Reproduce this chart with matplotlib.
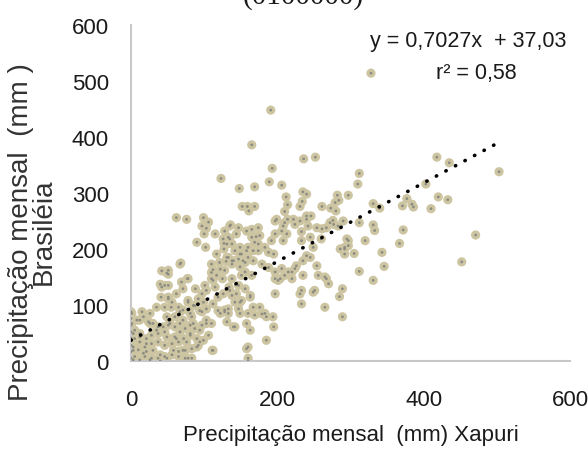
import matplotlib
matplotlib.use('Agg')
import matplotlib.pyplot as plt
import numpy as np

# precipitação mensal (mm): Xapuri (x) vs Brasiléia (y)
xapuri = [
    191, 165, 236, 252, 193, 123, 148, 169, 189, 206, 212, 214, 210, 235, 240, 234, 231, 152, 159, 169,
    161, 261, 273, 280, 282, 284, 297, 62, 76, 99, 106, 240, 246, 199, 214,
    328, 418, 435, 503, 312, 310, 331, 340, 371, 377, 384, 386, 403, 420, 433, 410, 312, 331, 333,
    372, 367, 471, 297, 292, 305, 320, 343, 346, 312, 331, 452, 289, 289, 285,
    103, 100, 115, 90, 102, 128, 136, 126, 131, 144, 158, 165, 171,
    197, 210, 222, 231, 240, 206, 197, 192,
    233, 254, 245, 233, 260, 272, 276, 290, 295, 297, 286,
    110, 122, 110, 117, 131, 142, 149, 149, 158, 153, 140, 167, 167,
    42, 51, 67, 78, 69, 51, 42,
    110, 115, 103, 97, 119, 126, 135, 144, 149, 163, 167, 169, 176, 179, 185, 194,
    185, 158, 160, 112, 140, 158, 149,
    197, 204, 210, 220, 226, 235, 245, 254, 256, 267, 270, 235, 231, 249, 265, 233,
    51, 62, 71, 78, 85, 99, 94, 81, 71, 65, 55, 49, 71, 85, 94, 103, 81, 67, 53, 49, 62, 76, 90, 94,
    65, 78, 1, 1, 8, 17, 26, 35, 44, 12, 21, 30, 40, 49, 3, 3, 3, 12, 26, 40, 58, 71, 17,
    97, 135, 127, 127, 68, 49, 51, 112, 121, 130, 138, 117, 128,
    279, 135, 147, 133, 174, 176, 165, 169, 160, 208, 224, 213, 208, 242, 261, 267, 277, 283,
    292, 249, 240, 174, 183, 188, 195, 174, 138, 151, 133, 147, 156, 138, 149, 160, 156, 165, 151,
    138, 147, 156, 163, 151, 142, 138, 133, 147, 160, 179, 188, 197, 206, 215, 224, 220, 201, 197,
    233, 251, 265, 292, 183, 195, 163, 142, 131, 160, 160, 128, 133,
    60, 67, 74, 81, 87, 97, 103, 106, 99, 90, 81, 72, 65, 60, 56, 46, 37, 28, 19, 10,
    19, 28, 37, 46, 56, 65, 74, 83, 92, 111, 74, 83, 110, 122, 128, 5, 12, 5, 12, 3,
    5, 21, 37, 46, 28, 21, 37, 51, 30, 26, 35, 46, 56, 67, 60, 83, 97, 103,
    77, 40, 46, 88, 101, 112, 125, 134, 41, 51, 92, 87, 78, 112, 119, 15, 12, 24,
    0, 0, 0, 0, 0, 0, 0, 0,
]
brasileia = [
    448, 386, 361, 364, 344, 326, 308, 311, 320, 314, 293, 279, 267, 302, 298, 285, 276, 276, 276, 276,
    268, 276, 273, 268, 296, 287, 296, 256, 253, 256, 248, 259, 259, 253, 253,
    514, 364, 354, 338, 335, 316, 281, 273, 277, 290, 280, 275, 316, 293, 288, 272, 247, 243, 233,
    234, 210, 225, 215, 200, 192, 215, 194, 169, 160, 144, 177, 129, 79, 115,
    237, 227, 227, 212, 203, 232, 243, 218, 209, 227, 232, 235, 222,
    250, 247, 253, 250, 253, 232, 227, 215,
    231, 238, 221, 215, 218, 247, 251, 250, 218, 206, 200,
    158, 164, 173, 191, 185, 197, 191, 203, 197, 179, 179, 179, 197,
    161, 155, 173, 147, 141, 135, 132,
    147, 132, 126, 120, 114, 120, 126, 120, 105, 114, 96, 82, 96, 84, 79, 79,
    37, 22, 5, 19, 61, 67, 85,
    120, 147, 153, 159, 170, 179, 185, 170, 153, 147, 138, 153, 120, 123, 96, 102,
    114, 120, 129, 108, 99, 105, 90, 85, 91, 96, 96, 79, 73, 67, 55, 67, 49, 52, 67, 43, 40, 34, 25, 34,
    8, 5, 85, 67, 73, 79, 67, 55, 61, 43, 31, 19, 11, 5, 49, 19, 2, 2, 2, 0, 19, 19, 14,
    241, 218, 210, 200, 175, 157, 162, 163, 176, 178, 179, 153, 162,
    283, 241, 238, 221, 238, 224, 221, 212, 203, 241, 244, 227, 215, 241, 236, 238, 244, 241,
    203, 203, 188, 209, 203, 194, 191, 197, 209, 191, 185, 182, 176, 173, 168, 185, 159, 153, 153,
    147, 135, 129, 117, 108, 105, 117, 93, 93, 85, 173, 167, 159, 165, 159, 165, 147, 144, 147,
    126, 126, 150, 191, 85, 61, 55, 61, 70, 25, 0, 91, 85,
    61, 67, 58, 64, 58, 64, 73, 46, 37, 40, 46, 40, 34, 43, 31, 28, 34, 31, 25, 20,
    8, 5, 5, 8, 11, 17, 19, 22, 28, 19, 5, 5, 67, 85, 88, 55, 49, 40, 34, 25,
    8, 17, 49, 52, 46, 40, 61, 64, 67, 85, 96, 96, 105, 88, 79, 79, 88, 93,
    147, 137, 135, 129, 135, 144, 147, 132, 114, 111, 111, 99, 105, 102, 90, 88, 73, 70,
    88, 76, 64, 52, 41, 28, 17, 5,
]

# linha de tendência (Excel)
slope = 0.7027
intercept = 37.03

x_ticks = [0, 200, 400, 600]
y_ticks = [0, 100, 200, 300, 400, 500, 600]

sans = ['Liberation Sans', 'DejaVu Sans']

fig = plt.figure(figsize=(5.88, 4.52), dpi=100)
ax = fig.add_axes([131 / 588, 1 - 362 / 452, 439 / 588, 336 / 452])

ax.scatter(xapuri, brasileia, s=44, color='#CDC5A1', edgecolors='none', zorder=2)
ax.scatter(xapuri, brasileia, s=4, color='#8C8C82', edgecolors='none', zorder=3)

xl = np.array([min(xapuri), max(xapuri)])
ax.plot(xl, slope * xl + intercept, color='black', linewidth=2.6,
        linestyle=(0, (0.1, 2.9)), dash_capstyle='round', zorder=4)

ax.set_xlim(0, 600)
ax.set_ylim(0, 600)
ax.set_xticks(x_ticks)
ax.set_yticks(y_ticks)
ax.tick_params(length=0, labelsize=16, pad=16)
ax.tick_params(axis='x', pad=20)
for lab in ax.get_xticklabels() + ax.get_yticklabels():
    lab.set_family(sans)
    lab.set_color('#1a1a1a')

for s in ['top', 'right']:
    ax.spines[s].set_visible(False)
for s in ['left', 'bottom']:
    ax.spines[s].set_color('#C8C8C8')
    ax.spines[s].set_linewidth(1.5)

ax.set_xlabel('Precipitação mensal  (mm) Xapuri', family=sans, fontsize=16,
              color='#1a1a1a', labelpad=10)
fig.text(0.055, 1 - 232 / 452, 'Precipitação mensal  (mm )\nBrasiléia', rotation=90,
         ha='center', va='center', fontsize=20, family=sans,
         color='#333333', linespacing=0.88)

ax.text(0.768, 0.955, 'y = 0,7027x  + 37,03', transform=ax.transAxes, ha='center',
        va='center', fontsize=15.5, family=sans, color='#1a1a1a')
ax.text(0.786, 0.86, 'r² = 0,58', transform=ax.transAxes, ha='center',
        va='center', fontsize=15.5, family=sans, color='#1a1a1a')

fig.text(0.515, 1 - 4 / 452, '(0100000)', ha='center', va='baseline', fontsize=21,
         family=['Liberation Serif', 'DejaVu Serif'], color='#1a1a1a')

fig.savefig('out.png', dpi=100)
